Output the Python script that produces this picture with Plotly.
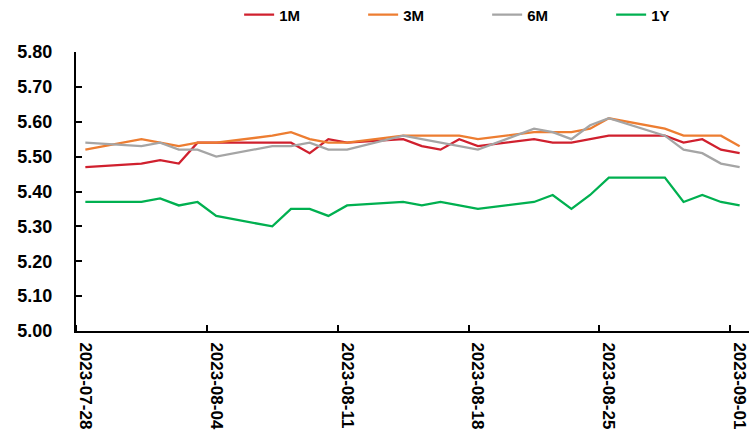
import plotly.graph_objects as go
import pandas as pd

# Trading days (weekdays) covered by the quotes
dates = [
    "2023-07-28", "2023-07-31", "2023-08-01", "2023-08-02", "2023-08-03", "2023-08-04",
    "2023-08-07", "2023-08-08", "2023-08-09", "2023-08-10", "2023-08-11",
    "2023-08-14", "2023-08-15", "2023-08-16", "2023-08-17", "2023-08-18",
    "2023-08-21", "2023-08-22", "2023-08-23", "2023-08-24", "2023-08-25",
    "2023-08-28", "2023-08-29", "2023-08-30", "2023-08-31", "2023-09-01",
]

rate_1m = [5.47, 5.48, 5.49, 5.48, 5.54, 5.54, 5.54, 5.54, 5.51, 5.55, 5.54,
           5.55, 5.53, 5.52, 5.55, 5.53, 5.55, 5.54, 5.54, 5.55, 5.56,
           5.56, 5.54, 5.55, 5.52, 5.51]
rate_3m = [5.52, 5.55, 5.54, 5.53, 5.54, 5.54, 5.56, 5.57, 5.55, 5.54, 5.54,
           5.56, 5.56, 5.56, 5.56, 5.55, 5.57, 5.57, 5.57, 5.58, 5.61,
           5.58, 5.56, 5.56, 5.56, 5.53]
rate_6m = [5.54, 5.53, 5.54, 5.52, 5.52, 5.50, 5.53, 5.53, 5.54, 5.52, 5.52,
           5.56, 5.55, 5.54, 5.53, 5.52, 5.58, 5.57, 5.55, 5.59, 5.61,
           5.56, 5.52, 5.51, 5.48, 5.47]
rate_1y = [5.37, 5.37, 5.38, 5.36, 5.37, 5.33, 5.30, 5.35, 5.35, 5.33, 5.36,
           5.37, 5.36, 5.37, 5.36, 5.35, 5.37, 5.39, 5.35, 5.39, 5.44,
           5.44, 5.37, 5.39, 5.37, 5.36]

series_names = ["1M", "3M", "6M", "1Y"]
series_colors = ["#D0202E", "#ED7D31", "#A5A5A5", "#00B050"]

x_tick_dates = ["2023-07-28", "2023-08-04", "2023-08-11", "2023-08-18", "2023-08-25", "2023-09-01"]
y_ticks = [5.00, 5.10, 5.20, 5.30, 5.40, 5.50, 5.60, 5.70, 5.80]

FONT = "Liberation Sans"

x = pd.to_datetime(dates)
half_day = pd.Timedelta(hours=12)
x_range = [pd.Timestamp(dates[0]) - half_day, pd.Timestamp(dates[-1]) + half_day]
tick_x = pd.to_datetime(x_tick_dates)

fig = go.Figure()
for name, vals, color in zip(series_names, [rate_1m, rate_3m, rate_6m, rate_1y], series_colors):
    fig.add_trace(go.Scatter(
        x=x, y=vals, name=name, mode="lines",
        line=dict(color=color, width=2.3),
    ))

fig.update_layout(
    width=755, height=434,
    margin=dict(l=76, r=6, t=52, b=103, autoexpand=False),
    paper_bgcolor="white", plot_bgcolor="white",
    showlegend=True,
    legend=dict(
        orientation="h", x=0.2424, xanchor="left", y=1.133, yanchor="middle",
        font=dict(family=FONT, size=15, color="black", weight=700),
        entrywidth=79, entrywidthmode="pixels",
        bgcolor="rgba(0,0,0,0)",
    ),
    xaxis=dict(
        type="date", range=x_range,
        tickvals=tick_x, ticktext=x_tick_dates,
        tickangle=90, ticks="",
        tickfont=dict(family=FONT, size=17, color="black", weight=700),
        ticklabelstandoff=6,
        # tick marks sit on the day boundaries, between the date labels
        minor=dict(tickmode="array", tickvals=list(tick_x - half_day),
                   ticks="inside", ticklen=6, tickwidth=1.5, tickcolor="black",
                   showgrid=False),
        showline=True, linecolor="black", linewidth=2,
        showgrid=False, zeroline=False,
    ),
    yaxis=dict(
        range=[5.0, 5.8], tickvals=y_ticks, tickformat=".2f",
        ticks="inside", ticklen=6, tickwidth=1.5, tickcolor="black",
        tickfont=dict(family=FONT, size=18, color="black", weight=700),
        ticklabelstandoff=18,
        showline=True, linecolor="black", linewidth=2,
        showgrid=False, zeroline=False,
    ),
)

fig.write_html("out.html")
